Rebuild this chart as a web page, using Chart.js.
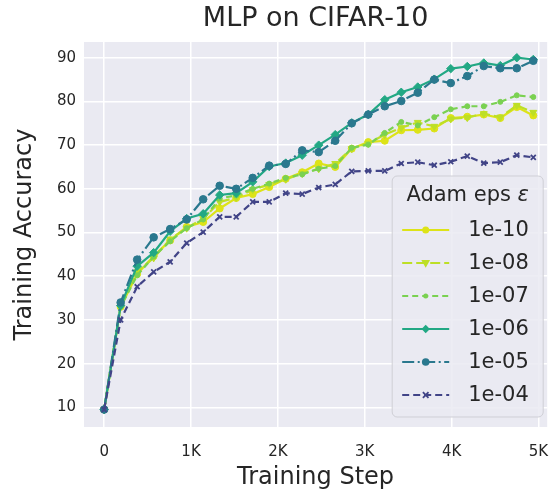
<!DOCTYPE html>
<html>
<head>
<meta charset="utf-8">
<script src="https://cdn.jsdelivr.net/npm/chart.js@4/dist/chart.umd.min.js"></script>
<style>
  html, body { margin: 0; padding: 0; background: #fff; }
  #wrap { width: 553px; height: 495px; }
</style>
</head>
<body>
<div id="wrap"><canvas id="chart" width="553" height="495"></canvas></div>
<script>
// training steps where accuracy was evaluated
const steps = [0, 190, 380, 570, 760, 950, 1140, 1330, 1520, 1710, 1900, 2090, 2280, 2470,
  2660, 2850, 3040, 3230, 3420, 3610, 3800, 3990, 4180, 4370, 4560, 4750, 4940];

const xTickValues = [0, 1000, 2000, 3000, 4000, 5000];
const xTickLabels = ['0', '1K', '2K', '3K', '4K', '5K'];
const yTickValues = [10, 20, 30, 40, 50, 60, 70, 80, 90];

const epsLabels = ['1e-10', '1e-08', '1e-07', '1e-06', '1e-05', '1e-04'];

// training accuracy (%) per eps
const acc1e10 = [9.5, 33.0, 40.5, 44.6, 48.2, 51.3, 52.4, 55.5, 57.9, 58.8, 60.4, 62.3, 63.8, 65.8,
  65.0, 69.2, 70.7, 71.0, 73.4, 73.5, 73.8, 76.2, 76.5, 77.0, 76.2, 78.7, 76.8];
const acc1e08 = [9.5, 33.3, 41.0, 44.2, 48.5, 51.0, 53.2, 57.0, 58.0, 59.8, 61.0, 62.2, 63.5, 64.6,
  65.8, 69.2, 70.4, 72.4, 74.0, 75.2, 74.3, 76.0, 76.3, 77.2, 76.4, 79.1, 77.5];
const acc1e07 = [9.5, 33.0, 40.2, 44.5, 48.0, 51.0, 53.0, 57.8, 58.5, 60.0, 61.2, 62.5, 63.3, 64.6,
  65.2, 69.4, 70.1, 72.8, 75.3, 74.5, 76.4, 78.2, 78.9, 78.9, 79.9, 81.4, 81.0];
const acc1e06 = [9.5, 33.3, 42.3, 45.4, 50.3, 53.2, 54.3, 58.6, 59.0, 61.6, 65.1, 65.9, 67.7, 70.0,
  72.4, 75.1, 77.0, 80.4, 82.1, 83.3, 85.1, 87.5, 88.0, 88.8, 88.2, 90.0, 89.6];
const acc1e05 = [9.5, 34.0, 43.8, 48.9, 50.8, 53.0, 57.6, 60.7, 60.0, 62.5, 65.3, 65.7, 68.8, 68.4,
  71.0, 75.0, 77.0, 78.9, 80.1, 82.0, 85.0, 84.2, 85.8, 88.1, 87.6, 87.6, 89.3];
const acc1e04 = [9.5, 30.0, 37.6, 41.0, 43.3, 47.6, 50.1, 53.6, 53.6, 57.0, 57.0, 59.0, 58.8, 60.3,
  61.0, 64.0, 64.1, 64.1, 65.8, 66.1, 65.4, 66.2, 67.5, 65.9, 66.1, 67.7, 67.2];

const series = [acc1e10, acc1e08, acc1e07, acc1e06, acc1e05, acc1e04];

// viridis samples + per-line style
const colors = ['#dde318', '#bddf26', '#7ad151', '#22a884', '#2a788e', '#414487'];
const dashes = [[], [10, 4], [6, 4], [], [12, 3.5, 2, 3.5], [7, 4]];
const markers = ['circle', 'triangle', 'circle', 'rectRot', 'circle', 'crossRot'];
const markerSize = [3.5, 4, 2.5, 4.2, 3.8, 3.5];
const markerRot = [0, 180, 0, 0, 0, 0];

const FONT = '"DejaVu Sans", "Liberation Sans", sans-serif';
const TEXT = '#262626';

const datasets = series.map((vals, i) => ({
  label: epsLabels[i],
  data: vals.map((v, j) => ({ x: steps[j], y: v })),
  borderColor: colors[i],
  backgroundColor: colors[i],
  borderWidth: 2.2,
  borderDash: dashes[i],
  pointStyle: markers[i],
  pointRadius: markerSize[i],
  pointRotation: markerRot[i],
  pointBorderWidth: markers[i] === 'crossRot' ? 1.8 : 1,
  pointBorderColor: colors[i],
  pointBackgroundColor: colors[i],
  tension: 0,
  order: series.length - i
}));

function drawMarker(ctx, style, r, rot, x, y, color) {
  ctx.save();
  ctx.translate(x, y);
  ctx.rotate(rot * Math.PI / 180);
  ctx.fillStyle = color;
  ctx.strokeStyle = color;
  ctx.setLineDash([]);
  ctx.beginPath();
  if (style === 'circle') {
    ctx.arc(0, 0, r, 0, Math.PI * 2);
    ctx.fill();
  } else if (style === 'triangle') {
    const h = r * 1.5;
    ctx.moveTo(0, -h * 0.8);
    ctx.lineTo(r * 1.1, h * 0.5);
    ctx.lineTo(-r * 1.1, h * 0.5);
    ctx.closePath();
    ctx.fill();
  } else if (style === 'rectRot') {
    ctx.moveTo(0, -r); ctx.lineTo(r, 0); ctx.lineTo(0, r); ctx.lineTo(-r, 0);
    ctx.closePath();
    ctx.fill();
  } else if (style === 'crossRot') {
    ctx.lineWidth = 1.8;
    ctx.moveTo(-r * 0.8, -r * 0.8); ctx.lineTo(r * 0.8, r * 0.8);
    ctx.moveTo(r * 0.8, -r * 0.8); ctx.lineTo(-r * 0.8, r * 0.8);
    ctx.stroke();
  }
  ctx.restore();
}

// grey panel behind the grid
const panelBg = {
  id: 'panelBg',
  beforeDraw(chart) {
    const { ctx, chartArea: a } = chart;
    ctx.save();
    ctx.fillStyle = '#eaeaf2';
    ctx.fillRect(a.left, a.top, a.right - a.left, a.bottom - a.top);
    ctx.restore();
  }
};

// title above the panel + legend box in the lower right
const decorations = {
  id: 'decorations',
  afterDraw(chart) {
    const { ctx, chartArea: a } = chart;
    ctx.save();
    ctx.fillStyle = TEXT;
    ctx.font = '27px ' + FONT;
    ctx.textAlign = 'center';
    ctx.textBaseline = 'middle';
    ctx.fillText('MLP on CIFAR-10', (a.left + a.right) / 2, 19);

    const bw = 151, bh = 241;
    const bx = a.right - 4 - bw, by = a.bottom - 10 - bh;
    const r = 5;
    ctx.beginPath();
    ctx.moveTo(bx + r, by);
    ctx.arcTo(bx + bw, by, bx + bw, by + bh, r);
    ctx.arcTo(bx + bw, by + bh, bx, by + bh, r);
    ctx.arcTo(bx, by + bh, bx, by, r);
    ctx.arcTo(bx, by, bx + bw, by, r);
    ctx.closePath();
    ctx.fillStyle = 'rgba(234,234,242,0.85)';
    ctx.fill();
    ctx.strokeStyle = '#cfcfd6';
    ctx.lineWidth = 1;
    ctx.stroke();

    // legend title: "Adam eps " + italic epsilon
    ctx.fillStyle = TEXT;
    ctx.textAlign = 'left';
    ctx.font = '21px ' + FONT;
    const head = 'Adam eps ';
    const headW = ctx.measureText(head).width;
    ctx.font = 'italic 21px ' + FONT;
    const epsW = ctx.measureText('\u03b5').width;
    const tx = bx + (bw - headW - epsW) / 2;
    ctx.font = '21px ' + FONT;
    ctx.fillText(head, tx, by + 20);
    ctx.font = 'italic 21px ' + FONT;
    ctx.fillText('\u03b5', tx + headW, by + 20);

    chart.data.datasets.forEach((ds, i) => {
      const y = by + 54 + i * 33;
      const x0 = bx + 10, x1 = bx + 57;
      ctx.save();
      ctx.strokeStyle = ds.borderColor;
      ctx.lineWidth = ds.borderWidth;
      ctx.setLineDash(ds.borderDash);
      ctx.beginPath();
      ctx.moveTo(x0, y);
      ctx.lineTo(x1, y);
      ctx.stroke();
      ctx.restore();
      drawMarker(ctx, ds.pointStyle, ds.pointRadius, ds.pointRotation, (x0 + x1) / 2, y, ds.borderColor);
      ctx.fillStyle = TEXT;
      ctx.font = '21px ' + FONT;
      ctx.textAlign = 'left';
      ctx.fillText(ds.label, bx + 76, y + 1);
    });
    ctx.restore();
  }
};

new Chart(document.getElementById('chart'), {
  type: 'line',
  data: { datasets },
  options: {
    responsive: false,
    animation: false,
    layout: { padding: { top: 42, right: 4, left: 0, bottom: 0 } },
    plugins: { legend: { display: false }, tooltip: { enabled: false } },
    scales: {
      x: {
        type: 'linear',
        min: -232,
        max: 5100,
        afterBuildTicks: (s) => { s.ticks = xTickValues.map(v => ({ value: v })); },
        afterFit: (s) => { s.height = 68; s.paddingLeft = 0; s.paddingRight = 0; },
        ticks: {
          color: TEXT,
          font: { family: FONT, size: 15 },
          padding: 16,
          maxRotation: 0,
          callback: (v) => xTickLabels[xTickValues.indexOf(v)]
        },
        grid: { color: '#ffffff', lineWidth: 1.5, drawTicks: false },
        border: { display: false },
        title: {
          display: true,
          text: 'Training Step',
          color: TEXT,
          font: { family: FONT, size: 24 },
          padding: { top: 0, bottom: 3 }
        }
      },
      y: {
        min: 5.5,
        max: 93.6,
        afterBuildTicks: (s) => { s.ticks = yTickValues.map(v => ({ value: v })); },
        afterFit: (s) => { s.width = 84; s.paddingTop = 0; s.paddingBottom = 0; },
        ticks: {
          color: TEXT,
          font: { family: FONT, size: 15 },
          padding: 8
        },
        grid: { color: '#ffffff', lineWidth: 1.5, drawTicks: false },
        border: { display: false },
        title: {
          display: true,
          text: 'Training Accuracy',
          color: TEXT,
          font: { family: FONT, size: 24 },
          padding: { top: 10, bottom: 0 }
        }
      }
    }
  },
  plugins: [panelBg, decorations]
});
</script>
</body>
</html>
